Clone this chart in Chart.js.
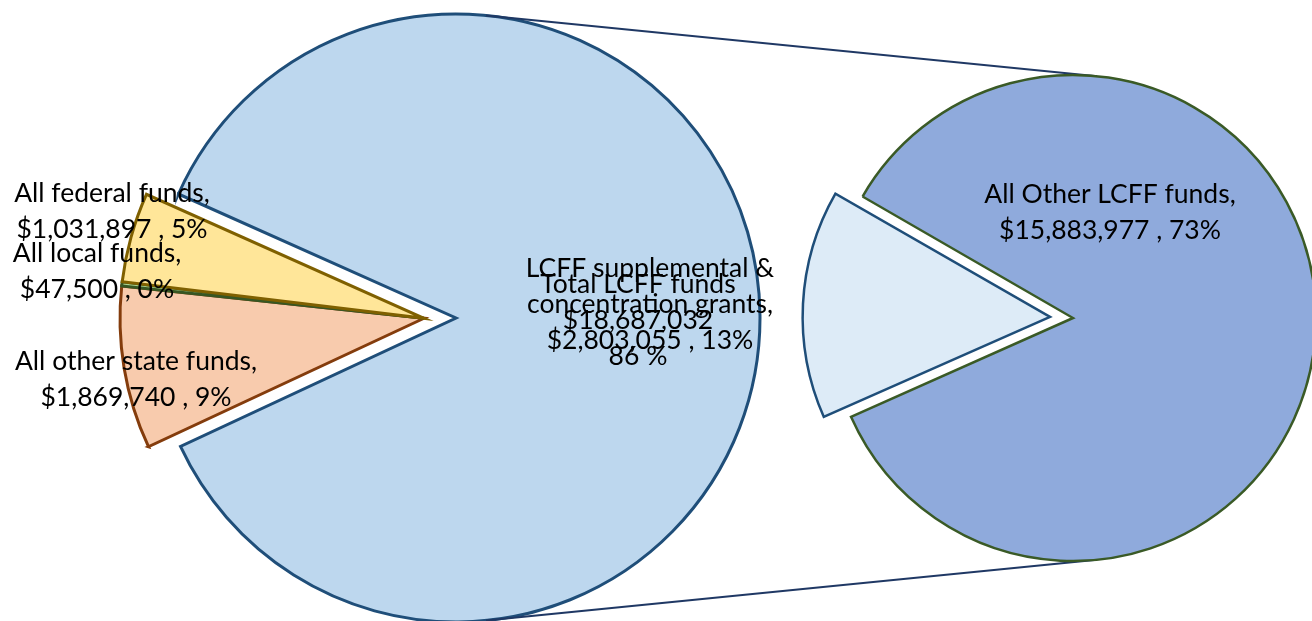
<!DOCTYPE html>
<html><head><meta charset="utf-8">
<script src="https://cdn.jsdelivr.net/npm/chart.js@4.4.0/dist/chart.umd.min.js"></script>
<style>
html,body{margin:0;padding:0;background:#fff;width:1312px;height:621px;overflow:hidden}
canvas{position:absolute;left:0;top:0}
</style></head><body>
<canvas id="leftPie" width="1312" height="621"></canvas>
<canvas id="rightPie" width="1312" height="621"></canvas>
<script>
// ---- data ----
const leftCategories = ['All other state funds', 'All local funds', 'All federal funds', 'Total LCFF funds'];
const leftValues = [1869740, 47500, 1031897, 18687032];
const rightCategories = ['LCFF supplemental &\nconcentration grants', 'All Other LCFF funds'];
const rightValues = [2803055, 15883977];

// ---- styling ----
const leftFill = ['#F8CBAD', '#A9D08E', '#FFE699', '#BDD7EE'];
const leftLine = ['#843C0C', '#375623', '#7F6000', '#1F4E79'];
const rightFill = ['#DDEBF7', '#8FAADC'];
const rightLine = ['#1F4E79', '#3A5A26'];
const leftExplodedGroup = [0, 1, 2];
const leftExplode = 32;
const leftLabelOffsets = [[-288, 61], [-327, -47], [-312, -107], [182, 2]];
const rightLabelOffsets = [[-423, -14], [37, -106]];
const LABEL_FONT = '26.5px Lato';
const LINE_H = 36;

const grandTotal = leftValues.reduce((a, b) => a + b, 0);
const money = v => '$' + v.toLocaleString('en-US');
const pct = v => Math.round(v / grandTotal * 100);
function inlineLabel(cat, v) {
  const lines = cat.split('\n');
  lines[lines.length - 1] += ',';
  lines.push(money(v) + ' , ' + pct(v) + '%');
  return lines;
}
function stackedLabel(cat, v) {
  return [cat, money(v), pct(v) + ' %'];
}
const leftLabels = leftCategories.map((c, i) => i === 3 ? stackedLabel(c, leftValues[i]) : inlineLabel(c, leftValues[i]));
const rightLabels = rightCategories.map((c, i) => inlineLabel(c, rightValues[i]));

function labelPlugin(labels, offsets) {
  return {
    id: 'sliceLabels',
    afterDatasetsDraw(chart) {
      const ctx = chart.ctx;
      const arcs = chart.getDatasetMeta(0).data;
      ctx.save();
      ctx.font = LABEL_FONT;
      ctx.fillStyle = '#000';
      ctx.textAlign = 'center';
      ctx.textBaseline = 'middle';
      arcs.forEach((arc, i) => {
        const lines = labels[i];
        const cx = arc.x + offsets[i][0];
        const cy = arc.y + offsets[i][1];
        const y0 = cy - (lines.length - 1) * LINE_H / 2;
        lines.forEach((t, k) => ctx.fillText(t, cx, y0 + k * LINE_H));
      });
      ctx.restore();
    }
  };
}

const explodePlugin = {
  id: 'groupExplode',
  afterDatasetUpdate(chart, args) {
    const arcs = chart.getDatasetMeta(args.index).data;
    const first = arcs[leftExplodedGroup[0]];
    const last = arcs[leftExplodedGroup[leftExplodedGroup.length - 1]];
    const mid = (first.startAngle + last.endAngle) / 2;
    leftExplodedGroup.forEach(i => {
      arcs[i].x += Math.cos(mid) * leftExplode;
      arcs[i].y += Math.sin(mid) * leftExplode;
    });
  }
};

const baseOpts = {
  responsive: false,
  maintainAspectRatio: false,
  animation: false,
  events: [],
  plugins: { legend: { display: false }, tooltip: { enabled: false } }
};

const leftChart = new Chart(document.getElementById('leftPie'), {
  type: 'pie',
  data: {
    labels: leftCategories,
    datasets: [{
      data: leftValues,
      backgroundColor: leftFill,
      borderColor: leftLine,
      borderWidth: 3,
      borderJoinStyle: 'miter'
    }]
  },
  options: Object.assign({}, baseOpts, {
    layout: { padding: { left: 0, right: 400, top: 15, bottom: 0 } },
    radius: 304,
    rotation: 245
  }),
  plugins: [explodePlugin, labelPlugin(leftLabels, leftLabelOffsets)]
});

const connectorPlugin = {
  id: 'connectors',
  beforeDatasetsDraw(chart) {
    const a = leftChart.getDatasetMeta(0).data[3];
    const b = chart.getDatasetMeta(0).data[1];
    const d = Math.hypot(b.x - a.x, b.y - a.y);
    const phi = Math.asin((a.outerRadius - b.outerRadius) / d);
    const base = Math.atan2(b.y - a.y, b.x - a.x);
    const ctx = chart.ctx;
    ctx.save();
    ctx.strokeStyle = '#1F3864';
    ctx.lineWidth = 2;
    [-1, 1].forEach(s => {
      const ang = base + s * (Math.PI / 2 - phi);
      ctx.beginPath();
      ctx.moveTo(a.x + Math.cos(ang) * a.outerRadius, a.y + Math.sin(ang) * a.outerRadius);
      ctx.lineTo(b.x + Math.cos(ang) * b.outerRadius, b.y + Math.sin(ang) * b.outerRadius);
      ctx.stroke();
    });
    ctx.restore();
  }
};

new Chart(document.getElementById('rightPie'), {
  type: 'pie',
  data: {
    labels: rightCategories,
    datasets: [{
      data: rightValues,
      backgroundColor: rightFill,
      borderColor: rightLine,
      borderWidth: 2.5,
      borderJoinStyle: 'miter',
      offset: [92, 0]
    }]
  },
  options: Object.assign({}, baseOpts, {
    layout: { padding: { left: 834, right: 0, top: 15, bottom: 0 } },
    radius: 243,
    rotation: 246
  }),
  plugins: [connectorPlugin, labelPlugin(rightLabels, rightLabelOffsets)]
});
</script>
</body></html>
